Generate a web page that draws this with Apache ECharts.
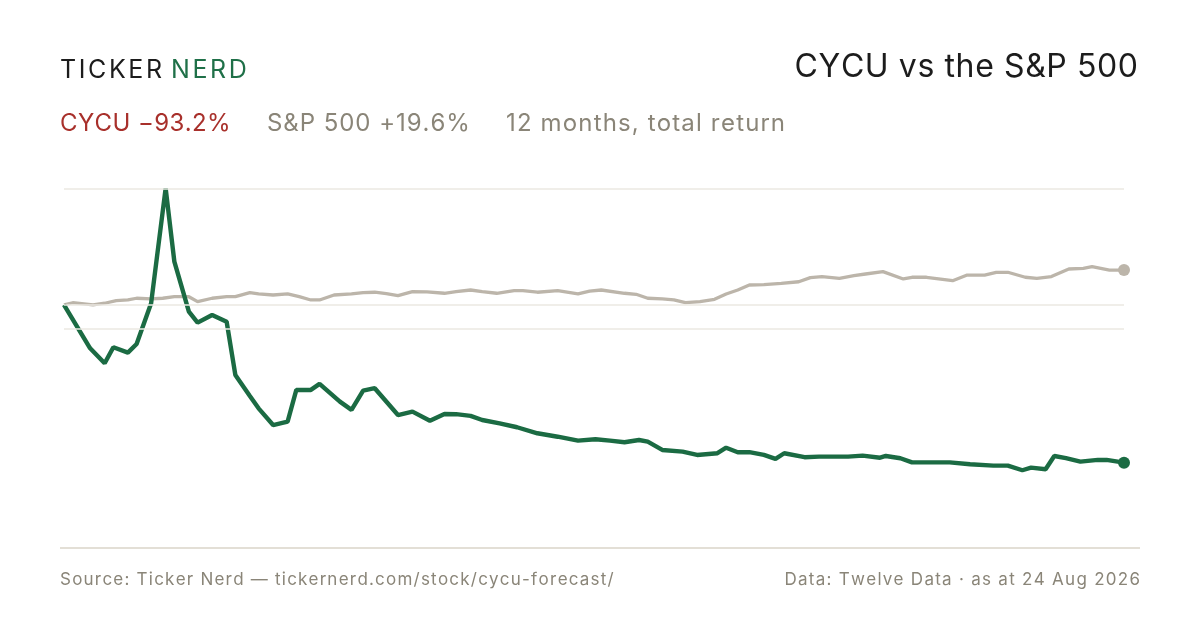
<!DOCTYPE html>
<html lang="en">
  <head>
    <meta charset="UTF-8" />
    <title>CYCU vs the S&P 500</title>
    <script src="https://cdn.jsdelivr.net/npm/echarts@6/dist/echarts.min.js"></script>
    <style>
      html, body { margin: 0; padding: 0; background: #ffffff; }
      #main { width: 1200px; height: 630px; }
    </style>
  </head>
  <body>
    <div id="main"></div>
    <script>
      // days since start of the 12 month window, index = 100 at start
      var cycuDays = [0, 9, 14, 17, 22, 25, 30, 35, 38, 43, 46, 51, 56, 59, 64, 67, 72, 77, 80, 85,
        88, 95, 99, 103, 107, 115, 120, 126, 131, 135, 140, 144, 150, 156, 163, 170, 177, 183, 188,
        193, 198, 201, 206, 213, 218, 225, 228, 232, 236, 241, 245, 248, 255, 260, 270, 275, 281,
        283, 288, 292, 305, 312, 320, 325, 330, 333, 338, 341, 345, 350, 356, 359, 365];
      var cycuIndex = [100, 74.8, 66.1, 75.4, 72.3, 77.3, 101.0, 167.8, 125.2, 96.1, 89.7, 94.2, 90.3,
        59.3, 47.1, 39.9, 30.2, 32.2, 50.6, 50.6, 54.1, 43.8, 39.0, 50.2, 51.6, 36.0, 38.0, 32.7,
        36.6, 36.5, 35.5, 33.1, 31.2, 28.9, 25.4, 23.4, 21.1, 21.9, 21.1, 20.2, 21.5, 20.5, 15.7,
        14.7, 12.8, 13.8, 17.0, 14.4, 14.4, 12.8, 10.5, 13.8, 11.5, 11.8, 11.8, 12.4, 11.2, 12.2,
        10.9, 8.5, 8.5, 7.4, 6.6, 6.6, 3.9, 5.4, 4.5, 12.2, 10.9, 8.9, 9.9, 9.9, 8.3];

      var spxDays = [0, 3, 10, 14, 18, 22, 25, 30, 34, 38, 43, 46, 51, 56, 59, 64, 67, 72, 77, 81,
        85, 88, 93, 99, 103, 107, 111, 115, 120, 125, 131, 135, 140, 144, 149, 155, 158, 163, 170,
        177, 181, 185, 193, 197, 201, 206, 210, 214, 219, 224, 228, 232, 236, 241, 247, 253, 257,
        261, 267, 272, 276, 282, 289, 292, 297, 306, 311, 317, 321, 325, 331, 335, 340, 346, 351,
        354, 360, 365];
      var spxIndex = [100, 101.3, 100.0, 101.0, 102.5, 102.9, 103.9, 103.5, 103.9, 104.8, 104.8,
        101.9, 103.9, 104.8, 104.8, 107.2, 106.4, 105.8, 106.4, 104.8, 102.9, 102.9, 105.8, 106.4,
        107.2, 107.4, 106.6, 105.4, 107.7, 107.6, 106.8, 107.7, 108.7, 107.7, 106.8, 108.3, 108.3,
        107.4, 108.3, 106.4, 108.1, 108.7, 106.8, 106.2, 103.9, 103.5, 102.9, 101.3, 101.9, 103.3,
        106.4, 108.7, 111.6, 111.8, 112.6, 113.5, 115.9, 116.5, 115.5, 117.0, 118.0, 119.4, 115.1,
        116.1, 116.1, 114.1, 117.4, 117.4, 119.0, 119.0, 116.1, 115.5, 116.5, 120.9, 121.3, 122.3,
        120.3, 120.3];

      var refLines = [167.4, 100, 86];

      var greenLine = "#1b6b43";
      var greyLine = "#bcb5aa";
      var mutedText = "#8a8578";
      var fontName = "Inter, 'Liberation Sans', sans-serif";

      function pairs(days, vals, color) {
        var out = [];
        for (var i = 0; i < days.length; i++) {
          if (i == days.length - 1) {
            out.push({
              value: [days[i], vals[i]],
              symbol: "circle",
              symbolSize: 12,
              itemStyle: { color: color },
            });
          } else {
            out.push([days[i], vals[i]]);
          }
        }
        return out;
      }

      // canvas text has no letter-spacing in echarts, so lay letters out one by one
      var ctx = document.createElement("canvas").getContext("2d");
      function spaced(str, x, y, font, fill, gap, alignRight) {
        ctx.font = font;
        var total = 0;
        for (var i = 0; i < str.length; i++) {
          total += ctx.measureText(str[i]).width + (i < str.length - 1 ? gap : 0);
        }
        var cx = alignRight ? x - total : x;
        var els = [];
        for (var j = 0; j < str.length; j++) {
          var ch = str[j];
          if (ch != " ") {
            els.push({
              type: "text",
              x: cx,
              y: y,
              silent: true,
              style: { text: ch, font: font, fill: fill, verticalAlign: "middle" },
            });
          }
          cx += ctx.measureText(ch).width + gap;
        }
        return els;
      }

      var logoFont = "400 25px " + fontName;
      var titleFont = "400 32px " + fontName;
      var subFont = "400 24px " + fontName;
      var footFont = "400 17px " + fontName;

      var texts = []
        .concat(spaced("TICKER", 60, 70, logoFont, "#1c1c1c", 2.6))
        .concat(spaced("NERD", 171, 70, logoFont, "#1f7048", 2.6))
        .concat(spaced("CYCU vs the S&P 500", 1138, 67, titleFont, "#1c1c1c", 0.6, true))
        .concat(spaced("CYCU \u221293.2%", 60, 124, subFont, "#a8302b", 0.4))
        .concat(spaced("S&P 500 +19.6%", 267, 124, subFont, mutedText, 0.95))
        .concat(spaced("12 months, total return", 506, 124, subFont, mutedText, 1.15))
        .concat(spaced("Source: Ticker Nerd \u2014 tickernerd.com/stock/cycu-forecast/", 60, 580, footFont, mutedText, 1.22))
        .concat(spaced("Data: Twelve Data \u00b7 as at 24 Aug 2026", 1140, 580, footFont, mutedText, 1.28, true));

      var myChart = echarts.init(document.getElementById("main"));
      var option = {
        animation: false,
        backgroundColor: "#ffffff",
        grid: { left: 64, right: 76, top: 188, height: 340.56 },
        xAxis: { type: "value", min: 0, max: 365, show: false },
        yAxis: { type: "value", min: -30, max: 168, show: false },
        graphic: texts.concat([
          {
            type: "line",
            shape: { x1: 60, y1: 548, x2: 1140, y2: 548 },
            style: { stroke: "#e3dfd6", lineWidth: 2 },
          },
        ]),
        series: [
          {
            // reference lines only
            type: "line",
            data: [],
            z: 1,
            markLine: {
              silent: true,
              symbol: "none",
              label: { show: false },
              lineStyle: { color: "#ebe8e2", width: 1.5, type: "solid" },
              data: refLines.map(function (v) {
                return { yAxis: v };
              }),
            },
          },
          {
            name: "S&P 500",
            type: "line",
            z: 2,
            symbol: "none",
            clip: false,
            lineStyle: { color: greyLine, width: 3.3 },
            itemStyle: { color: greyLine },
            data: pairs(spxDays, spxIndex, greyLine),
          },
          {
            name: "CYCU",
            type: "line",
            z: 3,
            symbol: "none",
            clip: false,
            lineStyle: { color: greenLine, width: 4.4 },
            itemStyle: { color: greenLine },
            data: pairs(cycuDays, cycuIndex, greenLine),
          },
        ],
      };
      myChart.setOption(option);
    </script>
  </body>
</html>
